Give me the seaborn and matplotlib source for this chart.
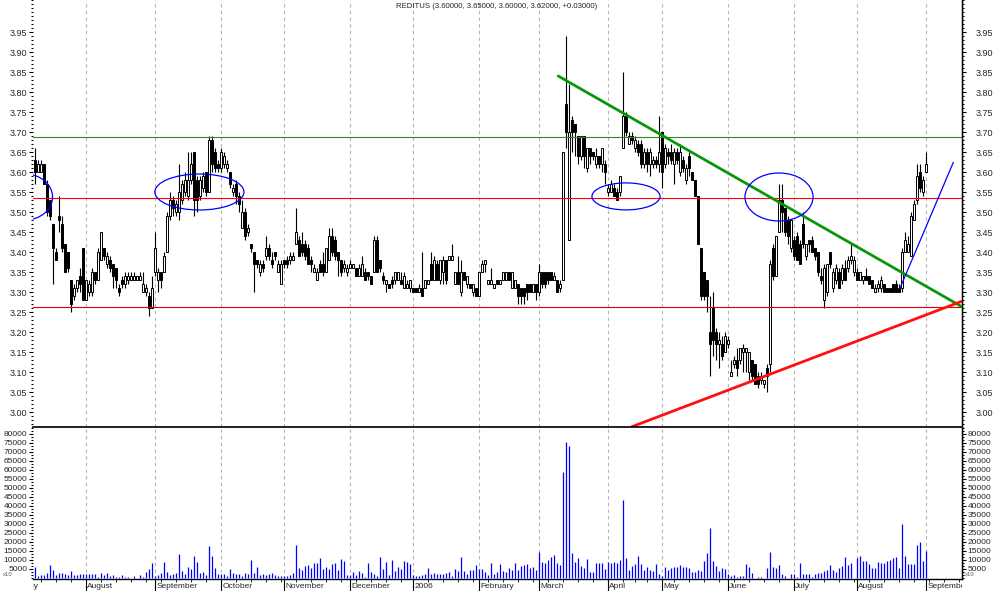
import matplotlib
matplotlib.use("Agg")
import matplotlib.pyplot as plt
from matplotlib.patches import Ellipse
from matplotlib.ticker import FixedLocator, MultipleLocator, FormatStrFormatter
import numpy as np
import pandas as pd
import seaborn as sns

# daily bars, one line per month: Jul 2005 ... 1 Sep 2006
opens = [
    3.63, 3.60, 3.60, 3.62, 3.57, 3.53, 3.47, 3.40, 3.49, 3.47, 3.42, 3.40, 3.33, 3.29, 3.31, 3.34, 3.41,
    3.28, 3.30, 3.30, 3.35, 3.33, 3.38, 3.41, 3.37, 3.38, 3.37, 3.36, 3.31, 3.33, 3.32, 3.33, 3.33, 3.33, 3.33, 3.33, 3.30, 3.30, 3.29, 3.26,
    3.35, 3.33, 3.35, 3.35, 3.40, 3.49, 3.53, 3.50, 3.50, 3.53, 3.55, 3.54, 3.58, 3.65, 3.58, 3.54, 3.56, 3.60, 3.55, 3.68, 3.65, 3.62,
    3.61, 3.62, 3.61, 3.60, 3.55, 3.57, 3.54, 3.46, 3.50, 3.45, 3.42, 3.40, 3.38, 3.35, 3.37, 3.39, 3.41, 3.38, 3.40, 3.35, 3.32,
    3.38, 3.38, 3.38, 3.38, 3.42, 3.43, 3.42, 3.42, 3.41, 3.38, 3.35, 3.33, 3.37, 3.37, 3.35, 3.38, 3.44, 3.43, 3.40, 3.38, 3.36, 3.35,
    3.36, 3.36, 3.36, 3.34, 3.34, 3.35, 3.35, 3.34, 3.35, 3.43, 3.38, 3.34, 3.32, 3.32, 3.33, 3.33, 3.33, 3.33, 3.31, 3.31, 3.31,
    3.31, 3.31, 3.30, 3.31, 3.31, 3.32, 3.37, 3.33, 3.37, 3.33, 3.35, 3.38, 3.38, 3.38, 3.32, 3.35, 3.30, 3.35, 3.32, 3.32, 3.30, 3.31,
    3.29, 3.35, 3.37, 3.32, 3.32, 3.31, 3.33, 3.32, 3.33, 3.33, 3.35, 3.31, 3.31, 3.32, 3.31, 3.31, 3.32, 3.32, 3.30, 3.32,
    3.30, 3.35, 3.35, 3.35, 3.35, 3.33, 3.33, 3.31, 3.33, 3.77, 3.43, 3.73, 3.72, 3.69, 3.64, 3.69, 3.61, 3.66, 3.65, 3.62, 3.64, 3.62, 3.62,
    3.55, 3.55, 3.56, 3.55, 3.55, 3.66, 3.74, 3.67, 3.69, 3.66, 3.67, 3.67, 3.62, 3.65, 3.62, 3.62, 3.63, 3.62,
    3.70, 3.62, 3.65, 3.65, 3.62, 3.65, 3.60, 3.63, 3.58, 3.64, 3.60, 3.58, 3.54, 3.41, 3.35, 3.33, 3.20, 3.26, 3.20, 3.17, 3.17, 3.15,
    3.17, 3.09, 3.12, 3.13, 3.13, 3.15, 3.15, 3.10, 3.13, 3.12, 3.09, 3.08, 3.07, 3.11, 3.12, 3.41, 3.34, 3.45, 3.53, 3.51, 3.48, 3.41,
    3.43, 3.44, 3.42, 3.47, 3.39, 3.43, 3.43, 3.41, 3.40, 3.34, 3.28, 3.30, 3.40, 3.31, 3.33, 3.35, 3.33, 3.36, 3.36, 3.38, 3.35,
    3.35, 3.33, 3.33, 3.34, 3.34, 3.33, 3.30, 3.31, 3.31, 3.32, 3.31, 3.31, 3.32, 3.32, 3.31, 3.31, 3.40, 3.40, 3.39, 3.48, 3.53, 3.60, 3.55,
    3.60,
]
highs = [
    3.66, 3.63, 3.63, 3.62, 3.58, 3.53, 3.47, 3.41, 3.54, 3.49, 3.42, 3.40, 3.33, 3.32, 3.33, 3.36, 3.41,
    3.33, 3.33, 3.36, 3.35, 3.41, 3.45, 3.41, 3.40, 3.39, 3.37, 3.36, 3.32, 3.34, 3.35, 3.35, 3.35, 3.35, 3.34, 3.35, 3.35, 3.32, 3.30, 3.34,
    3.45, 3.36, 3.35, 3.40, 3.50, 3.55, 3.54, 3.53, 3.62, 3.58, 3.60, 3.65, 3.65, 3.65, 3.59, 3.59, 3.60, 3.60, 3.69, 3.69, 3.66, 3.63,
    3.66, 3.65, 3.63, 3.60, 3.57, 3.58, 3.55, 3.53, 3.51, 3.47, 3.42, 3.40, 3.38, 3.38, 3.38, 3.44, 3.42, 3.40, 3.40, 3.38, 3.38,
    3.38, 3.39, 3.40, 3.40, 3.51, 3.44, 3.45, 3.43, 3.42, 3.39, 3.37, 3.36, 3.38, 3.40, 3.41, 3.46, 3.46, 3.44, 3.40, 3.38, 3.38, 3.37,
    3.38, 3.37, 3.36, 3.37, 3.39, 3.36, 3.35, 3.34, 3.44, 3.44, 3.38, 3.35, 3.33, 3.32, 3.34, 3.35, 3.35, 3.35, 3.35, 3.33, 3.33,
    3.31, 3.31, 3.32, 3.40, 3.33, 3.33, 3.40, 3.39, 3.38, 3.38, 3.39, 3.38, 3.39, 3.42, 3.35, 3.39, 3.38, 3.35, 3.34, 3.32, 3.32, 3.31,
    3.35, 3.38, 3.38, 3.33, 3.36, 3.32, 3.33, 3.33, 3.35, 3.35, 3.35, 3.35, 3.33, 3.32, 3.31, 3.31, 3.32, 3.32, 3.32, 3.32,
    3.37, 3.35, 3.35, 3.35, 3.35, 3.35, 3.33, 3.33, 3.65, 3.94, 3.82, 3.74, 3.72, 3.69, 3.69, 3.69, 3.66, 3.66, 3.65, 3.66, 3.64, 3.66, 3.63,
    3.57, 3.58, 3.57, 3.56, 3.59, 3.85, 3.75, 3.70, 3.70, 3.69, 3.68, 3.68, 3.66, 3.66, 3.66, 3.64, 3.64, 3.74,
    3.70, 3.67, 3.66, 3.67, 3.66, 3.66, 3.67, 3.64, 3.62, 3.65, 3.60, 3.58, 3.54, 3.41, 3.35, 3.33, 3.29, 3.30, 3.21, 3.20, 3.19, 3.20,
    3.19, 3.13, 3.14, 3.16, 3.16, 3.17, 3.16, 3.15, 3.13, 3.12, 3.10, 3.10, 3.08, 3.12, 3.38, 3.42, 3.44, 3.57, 3.57, 3.51, 3.49, 3.48,
    3.44, 3.45, 3.43, 3.50, 3.42, 3.43, 3.44, 3.41, 3.40, 3.36, 3.37, 3.37, 3.40, 3.36, 3.37, 3.36, 3.37, 3.38, 3.39, 3.42, 3.39,
    3.36, 3.35, 3.34, 3.36, 3.34, 3.33, 3.32, 3.33, 3.34, 3.32, 3.31, 3.31, 3.32, 3.33, 3.32, 3.41, 3.45, 3.44, 3.50, 3.53, 3.62, 3.62, 3.59,
    3.65,
]
lows = [
    3.57, 3.60, 3.60, 3.57, 3.49, 3.48, 3.32, 3.38, 3.45, 3.40, 3.35, 3.35, 3.25, 3.28, 3.30, 3.30, 3.28,
    3.28, 3.29, 3.29, 3.32, 3.33, 3.38, 3.38, 3.36, 3.35, 3.31, 3.31, 3.29, 3.31, 3.31, 3.32, 3.33, 3.33, 3.33, 3.33, 3.30, 3.29, 3.24, 3.26,
    3.34, 3.30, 3.31, 3.35, 3.40, 3.48, 3.49, 3.49, 3.48, 3.52, 3.54, 3.53, 3.57, 3.49, 3.50, 3.53, 3.55, 3.54, 3.55, 3.60, 3.60, 3.60,
    3.60, 3.61, 3.60, 3.56, 3.54, 3.52, 3.50, 3.46, 3.43, 3.44, 3.40, 3.30, 3.36, 3.34, 3.35, 3.38, 3.38, 3.36, 3.38, 3.35, 3.32,
    3.36, 3.36, 3.37, 3.38, 3.42, 3.39, 3.39, 3.38, 3.37, 3.35, 3.35, 3.33, 3.35, 3.34, 3.35, 3.38, 3.39, 3.38, 3.34, 3.34, 3.35, 3.34,
    3.36, 3.36, 3.34, 3.34, 3.34, 3.33, 3.33, 3.32, 3.35, 3.35, 3.35, 3.32, 3.30, 3.31, 3.31, 3.32, 3.33, 3.32, 3.31, 3.31, 3.30,
    3.30, 3.30, 3.30, 3.29, 3.31, 3.32, 3.33, 3.33, 3.33, 3.32, 3.32, 3.32, 3.38, 3.38, 3.32, 3.32, 3.29, 3.33, 3.31, 3.31, 3.29, 3.29,
    3.29, 3.35, 3.35, 3.32, 3.32, 3.31, 3.32, 3.32, 3.33, 3.33, 3.33, 3.31, 3.31, 3.27, 3.27, 3.27, 3.28, 3.30, 3.30, 3.28,
    3.29, 3.31, 3.31, 3.32, 3.33, 3.33, 3.30, 3.30, 3.33, 3.66, 3.43, 3.65, 3.64, 3.62, 3.63, 3.61, 3.60, 3.62, 3.63, 3.61, 3.61, 3.60, 3.57,
    3.54, 3.55, 3.54, 3.53, 3.54, 3.66, 3.69, 3.67, 3.67, 3.65, 3.64, 3.61, 3.61, 3.60, 3.59, 3.61, 3.61, 3.60,
    3.56, 3.61, 3.62, 3.62, 3.57, 3.62, 3.59, 3.60, 3.57, 3.59, 3.58, 3.54, 3.42, 3.28, 3.28, 3.25, 3.09, 3.14, 3.13, 3.11, 3.13, 3.15,
    3.16, 3.09, 3.11, 3.09, 3.12, 3.10, 3.10, 3.08, 3.08, 3.07, 3.06, 3.07, 3.06, 3.05, 3.10, 3.33, 3.34, 3.45, 3.45, 3.44, 3.42, 3.40,
    3.38, 3.38, 3.37, 3.41, 3.38, 3.40, 3.40, 3.38, 3.34, 3.32, 3.26, 3.29, 3.36, 3.30, 3.32, 3.31, 3.32, 3.33, 3.35, 3.37, 3.34,
    3.33, 3.33, 3.32, 3.33, 3.32, 3.31, 3.30, 3.30, 3.30, 3.30, 3.30, 3.30, 3.30, 3.30, 3.30, 3.30, 3.40, 3.40, 3.39, 3.48, 3.52, 3.55, 3.54,
    3.60,
]
closes = [
    3.60, 3.62, 3.62, 3.57, 3.50, 3.49, 3.41, 3.38, 3.48, 3.41, 3.35, 3.36, 3.27, 3.31, 3.33, 3.32, 3.28,
    3.33, 3.32, 3.35, 3.33, 3.40, 3.45, 3.39, 3.39, 3.36, 3.34, 3.33, 3.30, 3.32, 3.34, 3.34, 3.34, 3.34, 3.34, 3.34, 3.32, 3.31, 3.26, 3.31,
    3.41, 3.35, 3.33, 3.39, 3.49, 3.53, 3.51, 3.52, 3.55, 3.57, 3.58, 3.58, 3.62, 3.53, 3.53, 3.58, 3.59, 3.55, 3.68, 3.62, 3.61, 3.61,
    3.65, 3.64, 3.62, 3.57, 3.56, 3.54, 3.52, 3.50, 3.44, 3.46, 3.41, 3.37, 3.37, 3.37, 3.36, 3.41, 3.39, 3.37, 3.39, 3.37, 3.37,
    3.37, 3.37, 3.39, 3.39, 3.45, 3.39, 3.40, 3.39, 3.37, 3.37, 3.36, 3.35, 3.35, 3.35, 3.41, 3.44, 3.40, 3.39, 3.38, 3.35, 3.37, 3.36,
    3.37, 3.37, 3.34, 3.36, 3.37, 3.33, 3.34, 3.32, 3.43, 3.35, 3.36, 3.33, 3.33, 3.31, 3.32, 3.35, 3.35, 3.32, 3.34, 3.32, 3.33,
    3.30, 3.30, 3.31, 3.29, 3.33, 3.33, 3.33, 3.38, 3.33, 3.38, 3.38, 3.33, 3.39, 3.39, 3.35, 3.32, 3.35, 3.33, 3.34, 3.31, 3.32, 3.29,
    3.35, 3.37, 3.38, 3.33, 3.33, 3.32, 3.32, 3.33, 3.35, 3.35, 3.33, 3.35, 3.33, 3.29, 3.29, 3.29, 3.30, 3.30, 3.32, 3.30,
    3.35, 3.32, 3.32, 3.33, 3.33, 3.34, 3.30, 3.32, 3.65, 3.70, 3.70, 3.70, 3.70, 3.64, 3.69, 3.64, 3.66, 3.64, 3.64, 3.64, 3.62, 3.66, 3.60,
    3.56, 3.57, 3.54, 3.53, 3.59, 3.74, 3.70, 3.69, 3.68, 3.68, 3.65, 3.62, 3.65, 3.62, 3.65, 3.63, 3.62, 3.65,
    3.60, 3.66, 3.64, 3.63, 3.65, 3.63, 3.65, 3.61, 3.61, 3.61, 3.58, 3.54, 3.42, 3.29, 3.29, 3.29, 3.17, 3.18, 3.17, 3.18, 3.14, 3.19,
    3.18, 3.10, 3.13, 3.11, 3.16, 3.16, 3.16, 3.15, 3.09, 3.07, 3.07, 3.09, 3.08, 3.09, 3.37, 3.34, 3.44, 3.53, 3.50, 3.45, 3.44, 3.48,
    3.39, 3.38, 3.37, 3.42, 3.42, 3.42, 3.40, 3.39, 3.35, 3.33, 3.36, 3.37, 3.37, 3.35, 3.36, 3.31, 3.36, 3.33, 3.38, 3.39, 3.38,
    3.33, 3.35, 3.34, 3.33, 3.32, 3.31, 3.31, 3.32, 3.33, 3.30, 3.30, 3.30, 3.30, 3.30, 3.30, 3.40, 3.43, 3.42, 3.49, 3.52, 3.59, 3.56, 3.58,
    3.62,
]
# volume, thousands of shares
volumes = [
    5.8, 1.3, 1.6, 1.6, 2.7, 7.1, 4.4, 1.6, 2.7, 2.7, 2.2, 1.6, 3.6, 1.8, 1.8, 2.2, 2.2,
    2.2, 2.2, 2.2, 2.2, 0.5, 2.7, 1.6, 2.7, 0.9, 1.6, 0.5, 0.5, 1.6, 0.5, 0.5, 0.0, 0.9, 0.0, 1.6, 0.5, 3.5, 4.9, 8.2,
    1.3, 1.6, 2.7, 8.9, 3.5, 1.6, 2.2, 2.7, 13.3, 4.0, 2.2, 6.0, 4.9, 12.2, 8.9, 2.7, 3.5, 1.6, 17.5, 12.2, 5.5, 2.2,
    2.2, 2.2, 1.3, 4.9, 2.7, 2.2, 2.2, 1.3, 2.7, 2.2, 10.0, 2.7, 6.0, 1.6, 2.2, 1.6, 2.2, 2.7, 1.6, 1.3, 1.3,
    1.3, 0.9, 1.6, 2.7, 18.2, 5.5, 4.4, 6.7, 7.3, 5.5, 8.2, 8.2, 10.9, 4.9, 6.0, 4.9, 7.8, 8.2, 4.4, 10.4, 9.5, 1.6,
    1.6, 3.5, 1.6, 4.0, 2.7, 0.5, 8.2, 3.5, 2.2, 1.3, 11.5, 4.9, 8.9, 1.6, 9.8, 4.0, 6.0, 4.9, 9.5, 8.9, 7.6,
    1.6, 1.3, 1.3, 1.6, 2.2, 5.5, 2.2, 2.7, 2.2, 2.2, 2.2, 2.7, 3.3, 0.9, 4.9, 4.0, 11.5, 4.0, 2.2, 4.4, 4.4, 7.1,
    4.9, 4.9, 3.3, 1.6, 8.2, 2.2, 3.3, 7.6, 3.6, 3.1, 5.3, 4.4, 8.2, 4.4, 6.7, 7.1, 7.6, 5.5, 6.0, 4.4,
    14.6, 9.1, 8.5, 9.8, 11.5, 12.6, 8.5, 7.1, 59.0, 75.3, 73.0, 14.0, 9.1, 10.9, 6.6, 5.5, 10.4, 3.3, 3.3, 8.2, 8.2, 8.2, 5.0,
    8.7, 8.2, 8.7, 8.2, 9.8, 43.1, 10.9, 4.4, 6.6, 7.6, 12.0, 7.6, 4.4, 6.0, 4.4, 3.8, 7.6, 2.0,
    1.3, 6.0, 4.4, 5.5, 6.0, 6.0, 7.1, 6.0, 6.0, 5.5, 3.3, 3.3, 4.4, 3.8, 9.3, 13.6, 27.8, 9.3, 6.6, 3.8, 5.5, 4.9,
    2.2, 1.1, 1.6, 0.5, 1.1, 1.1, 7.6, 6.0, 2.7, 0.0, 0.5, 0.5, 0.0, 5.5, 14.2, 6.0, 5.5, 7.1, 2.2, 1.1, 0.0, 2.2,
    2.2, 0.5, 8.2, 2.2, 2.2, 2.2, 0.5, 2.2, 2.7, 2.7, 3.8, 4.4, 7.1, 4.4, 3.3, 5.5, 6.6, 11.5, 7.1, 8.2, 0.0,
    10.9, 12.0, 9.3, 9.3, 7.6, 5.5, 5.5, 8.7, 8.2, 8.2, 9.3, 9.8, 10.9, 11.5, 5.5, 30.0, 12.4, 7.6, 7.6, 7.6, 18.0, 19.7, 9.3,
    14.7,
]

first_day = "2005-07-07"
market_holidays = ["2005-12-26", "2006-04-14", "2006-04-17", "2006-05-01"]
title = "REDITUS (3.60000, 3.65000, 3.60000, 3.62000, +0.03000)"

# support / resistance levels
levels = [3.6875, 3.535, 3.262]
level_colors = ["#2a8a2a", "#ff0000", "#e00000"]

# trend lines (bar position, price)
down_x, down_y = [178.4, 313.0], [3.84, 3.263]
up_x, up_y = [202.9, 313.0], [2.963, 3.277]
break_x, break_y = [292.3, 310.1], [3.309, 3.624]

# circled zones: centre position, centre price, width in bars, height in price
zones = [(0.7, 3.5375, 18.3, 0.115), (58.8, 3.55, 29.7, 0.09),
         (201.0, 3.539, 22.7, 0.0675), (252.0, 3.5375, 22.7, 0.12)]

days = pd.bdate_range("2005-07-01", "2006-09-29").drop(pd.to_datetime(market_holidays))
df = pd.DataFrame({"open": opens, "high": highs, "low": lows, "close": closes, "volume": volumes})
start = days.get_loc(pd.Timestamp(first_day))
df["pos"] = np.arange(start, start + len(df))

month_pos = [0] + [i for i in range(1, len(days)) if days[i].month != days[i - 1].month]
month_lbl = [str(days[i].year) if days[i].month == 1 else days[i].strftime("%B") for i in month_pos]
week_pos = [i for i in range(1, len(days)) if days[i].weekday() < days[i - 1].weekday()]

sns.set_style("white")
plt.rcParams["font.family"] = ["Liberation Sans", "DejaVu Sans"]

W, H = 994, 591
fig = plt.figure(figsize=(W / 100, H / 100), dpi=100)


def box(x0, y0, x1, y1):
    return [x0 / W, 1 - y1 / H, (x1 - x0) / W, (y1 - y0) / H]


ax = fig.add_axes(box(33, 0, 962, 427))
axv = fig.add_axes(box(33, 427, 962, 579))
axl = fig.add_axes(box(33, 579, 962, 591))
xlim = (3.33, 313.0)

# price panel
for m in month_pos:
    ax.axvline(m, color="#b4b4b4", lw=0.8, ls=(0, (3, 3)), zorder=0)
    axv.axvline(m, color="#b4b4b4", lw=0.8, ls=(0, (3, 3)), zorder=0)

up = df["close"] >= df["open"]
lo = df[["open", "close"]].min(axis=1)
hgt = (df["close"] - df["open"]).abs()
ax.vlines(df["pos"], df["low"], df["high"], color="black", lw=0.8, zorder=3)
ax.bar(df["pos"][up], hgt[up], bottom=lo[up], width=0.7, facecolor="white",
       edgecolor="black", lw=0.7, zorder=4)
ax.bar(df["pos"][~up], hgt[~up], bottom=lo[~up], width=0.7, facecolor="black",
       edgecolor="black", lw=0.7, zorder=4)

for lv, c in zip(levels, level_colors):
    ax.axhline(lv, color=c, lw=0.8, zorder=5)

sns.lineplot(x=down_x, y=down_y, ax=ax, color="#0a960a", lw=2.0, zorder=6)
sns.lineplot(x=up_x, y=up_y, ax=ax, color="#ff1010", lw=2.0, zorder=6)
sns.lineplot(x=break_x, y=break_y, ax=ax, color="#0000ff", lw=0.9, zorder=6)
for cx, cy, w, h in zones:
    ax.add_patch(Ellipse((cx, cy), w, h, fill=False, edgecolor="#0000ff", lw=0.9, zorder=6))

ax.set_xlim(*xlim)
ax.set_ylim(2.9625, 4.03)
ax.set_xticks([])
ax.yaxis.set_major_locator(FixedLocator(np.arange(3.00, 3.96, 0.05)))
ax.yaxis.set_minor_locator(MultipleLocator(0.01))
ax.yaxis.set_major_formatter(FormatStrFormatter("%.2f"))

# volume panel
axv.vlines(df["pos"], 0, df["volume"] * 1000, color="#0000ff", lw=0.9, zorder=3)
axv.set_xlim(*xlim)
axv.set_ylim(-600, 83700)
axv.set_xticks([])
axv.yaxis.set_major_locator(FixedLocator(np.arange(5000, 80001, 5000)))
axv.yaxis.set_minor_locator(MultipleLocator(5000 / 3))
axv.yaxis.set_major_formatter(FormatStrFormatter("%d"))

for a, size, lpad, rpad in [(ax, 6.5, 1, 7), (axv, 6, 1.2, 1.2)]:
    for s in ["left", "top"]:
        a.spines[s].set_visible(False)
    for s in ["right", "bottom"]:
        a.spines[s].set_color("black")
        a.spines[s].set_linewidth(1.0)
    a.tick_params(axis="y", which="both", left=True, right=False, direction="out",
                  width=0.8, color="black", labelsize=size, pad=lpad)
    a.tick_params(axis="y", which="major", length=3)
    a.tick_params(axis="y", which="minor", length=1.5)
    r = a.twinx()
    r.set_ylim(a.get_ylim())
    r.yaxis.set_major_locator(a.yaxis.get_major_locator())
    r.yaxis.set_minor_locator(a.yaxis.get_minor_locator())
    r.yaxis.set_major_formatter(a.yaxis.get_major_formatter())
    for s in ["left", "top", "bottom"]:
        r.spines[s].set_visible(False)
    r.spines["right"].set_color("black")
    r.tick_params(axis="y", which="both", direction="out", width=0.8, color="black",
                  labelsize=size, pad=rpad)
    r.tick_params(axis="y", which="major", length=3)
    r.tick_params(axis="y", which="minor", length=1.5)
    r.grid(False)

# panel separator drawn by the volume panel's top edge
axv.spines["top"].set_visible(True)
axv.spines["top"].set_color("black")
axv.spines["top"].set_linewidth(1.2)

# month label strip
axl.set_xlim(*xlim)
axl.set_ylim(0, 1)
axl.axis("off")
axl.vlines(week_pos, 0.72, 1, color="black", lw=0.6)
axl.vlines(month_pos, 0, 1, color="black", lw=0.8)
for m, lbl in zip(month_pos, month_lbl):
    axl.text(m + 0.4, 0.38, lbl, fontsize=6, ha="left", va="center", clip_on=True)

fig.text(497 / W, 1 - 7 / H, title, fontsize=5.6, ha="center", va="center")
fig.text(8 / W, 1 - 575 / H, "x10", fontsize=4.2, ha="center", va="center", color="#555555")
fig.text(970 / W, 1 - 574 / H, "x10", fontsize=4.2, ha="center", va="center", color="#555555")

fig.savefig("out.png", dpi=100)
